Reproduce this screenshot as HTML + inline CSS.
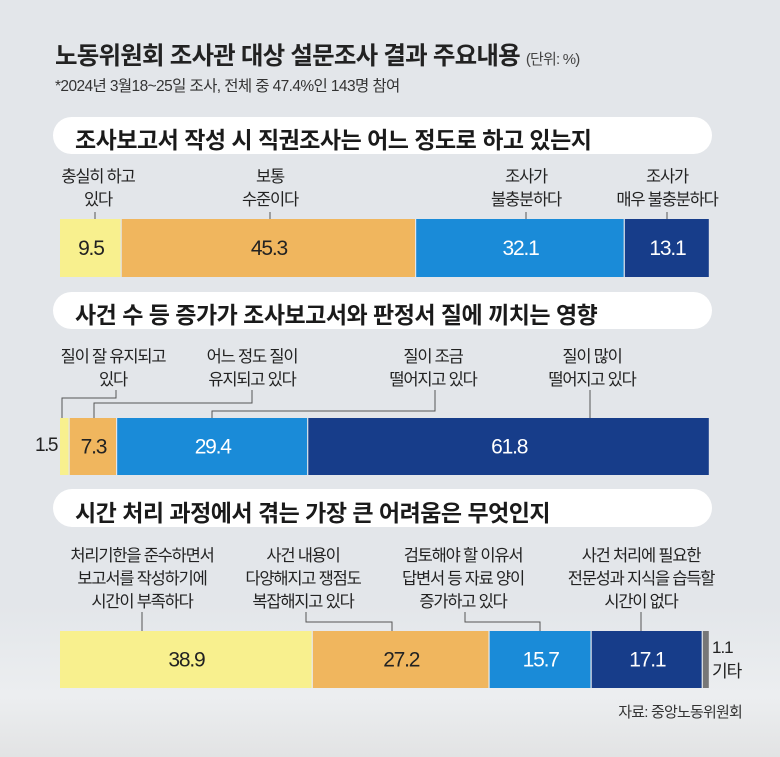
<!DOCTYPE html>
<html><head><meta charset="utf-8">
<style>
body{margin:0;width:780px;height:757px;overflow:hidden;font-family:"Liberation Sans","Noto Sans CJK KR",sans-serif;}
#wrap{position:relative;width:780px;height:757px;background:linear-gradient(#e3e6ea 0%,#e3e6ea 80%,#eceef0 92%,#e2e3e4 100%);}
.t{position:absolute;white-space:nowrap;color:#222;}
.band{position:absolute;left:53px;width:659px;background:#fff;border-radius:19px;}
.sec{position:absolute;left:75px;font-size:23px;font-weight:bold;letter-spacing:-0.5px;color:#1a1a1a;white-space:nowrap;}
.lab{position:absolute;font-size:16.5px;letter-spacing:-1.2px;line-height:23px;text-align:center;transform:translateX(-50%);white-space:nowrap;color:#222;}
svg{position:absolute;left:0;top:0;}
</style></head><body>
<div id="wrap">
<div class="t" style="left:55px;top:37px;font-size:24.5px;font-weight:bold;letter-spacing:-0.8px;">노동위원회 조사관 대상 설문조사 결과 주요내용 <span style="font-size:15px;font-weight:normal;color:#444;">(단위: %)</span></div>
<div class="t" style="left:55px;top:74px;font-size:15.5px;letter-spacing:-0.6px;color:#333;">*2024년 3월18~25일 조사, 전체 중 47.4%인 143명 참여</div>

<div class="band" style="top:117px;height:37px;"></div>
<div class="sec" style="top:121px;">조사보고서 작성 시 직권조사는 어느 정도로 하고 있는지</div>
<div class="band" style="top:292px;height:37px;"></div>
<div class="sec" style="top:296px;">사건 수 등 증가가 조사보고서와 판정서 질에 끼치는 영향</div>
<div class="band" style="top:489px;height:38px;"></div>
<div class="sec" style="top:494px;">시간 처리 과정에서 겪는 가장 큰 어려움은 무엇인지</div>

<div class="lab" style="left:98px;top:166px;">충실히 하고<br>있다</div>
<div class="lab" style="left:270px;top:166px;">보통<br>수준이다</div>
<div class="lab" style="left:526px;top:166px;">조사가<br>불충분하다</div>
<div class="lab" style="left:667px;top:166px;">조사가<br>매우 불충분하다</div>

<div class="lab" style="left:113px;top:346px;">질이 잘 유지되고<br>있다</div>
<div class="lab" style="left:252px;top:346px;">어느 정도 질이<br>유지되고 있다</div>
<div class="lab" style="left:433px;top:346px;">질이 조금<br>떨어지고 있다</div>
<div class="lab" style="left:592px;top:346px;">질이 많이<br>떨어지고 있다</div>

<div class="lab" style="left:142px;top:545px;">처리기한을 준수하면서<br>보고서를 작성하기에<br>시간이 부족하다</div>
<div class="lab" style="left:303px;top:545px;">사건 내용이<br>다양해지고 쟁점도<br>복잡해지고 있다</div>
<div class="lab" style="left:463px;top:545px;">검토해야 할 이유서<br>답변서 등 자료 양이<br>증가하고 있다</div>
<div class="lab" style="left:641px;top:545px;">사건 처리에 필요한<br>전문성과 지식을 습득할<br>시간이 없다</div>

<div class="t" style="left:712px;top:636px;font-size:17px;letter-spacing:-1px;line-height:24px;">1.1<br>기타</div>
<div class="t" style="left:35px;top:435px;font-size:19px;letter-spacing:-1.5px;">1.5</div>
<div class="t" style="right:38px;top:701px;font-size:15px;letter-spacing:-0.8px;color:#333;">자료: 중앙노동위원회</div>

<svg id="chart" width="780" height="757"></svg>
</div>
<script>
const s1Values=[9.5,45.3,32.1,13.1];
const s2Values=[1.5,7.3,29.4,61.8];
const s3Values=[38.9,27.2,15.7,17.1,1.1];
const s1Labels=["9.5","45.3","32.1","13.1"];
const s2Labels=["","7.3","29.4","61.8"];
const s3Labels=["38.9","27.2","15.7","17.1",""];
const colors4=["#f8f08e","#f0b65e","#1a8bd8","#173d8a"];
const colors5=["#f8f08e","#f0b65e","#1a8bd8","#173d8a","#777"];
const textColors=["#222","#222","#fff","#fff","#fff"];
const X0=60,W=650;
const NS="http://www.w3.org/2000/svg";
const svg=document.getElementById('chart');
function xs(v,total){return v/total*W;}
function drawBar(vals,labels,cols,y,h,name){
  const total=vals.reduce((a,b)=>a+b,0);
  let x=X0;
  vals.forEach((v,i)=>{
    const w=xs(v,total);
    const r=document.createElementNS(NS,'rect');
    r.setAttribute('x',x);r.setAttribute('y',y);r.setAttribute('width',Math.max(w-1.2,1));r.setAttribute('height',h);
    r.setAttribute('fill',cols[i]);
    
    
    svg.appendChild(r);
    if(labels[i]){
      const t=document.createElementNS(NS,'text');
      t.setAttribute('x',x+w/2);t.setAttribute('y',y+h/2+7);
      t.setAttribute('text-anchor','middle');t.setAttribute('font-size','21');
      t.setAttribute('letter-spacing','-1.2');
      t.setAttribute('fill',textColors[i]);
      t.textContent=labels[i];
      
      
      svg.appendChild(t);
    }
    x+=w;
  });
}
drawBar(s1Values,s1Labels,colors4,219,58,'bar-s1');
drawBar(s2Values,s2Labels,colors4,418,57,'bar-s2');
drawBar(s3Values,s3Labels,colors5,631,57,'bar-s3');
const leaders=[
 "95,212 95,219","270,212 270,219","526,212 526,219","667,212 667,219",
 "116,390 116,398 62,398 62,418","252,390 252,403 94,403 94,418","435,390 435,411 212,411 212,418","590,390 590,418",
 "142,612 142,631","306,612 306,622 392,622 392,631","465,612 465,622 540,622 540,631","641,612 641,631"
];
leaders.forEach((p,i)=>{
  const l=document.createElementNS(NS,'polyline');
  l.setAttribute('points',p);l.setAttribute('fill','none');l.setAttribute('stroke','#555');l.setAttribute('stroke-width','1');
  
  
  svg.appendChild(l);
});
</script>
</body></html>
